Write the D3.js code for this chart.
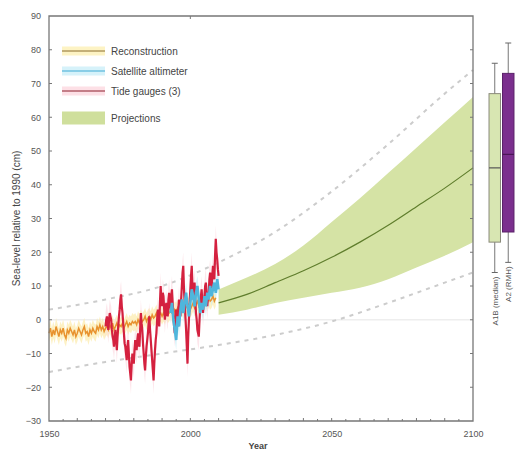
<!DOCTYPE html>
<html>
<head>
  <meta charset="utf-8">
  <title>Sea level</title>
  <script src="https://d3js.org/d3.v7.min.js"></script>
  <style>
    body { margin: 0; background: #fff; }
    svg { display: block; font-family: "Liberation Sans", Arial, sans-serif; }
  </style>
</head>
<body>
  <svg width="515" height="455"></svg>

  <script>
    // reconstruction, from 1950 every half year
    const reconStart = 1950;
    const reconStep = 0.5;
    const reconValues = [
      -4, -2.5, -5, -3, -4.5, -2, -3.5, -5, -3, -4, -2.5, -4.5, -5.5, -3, -4, -2.5, -3.5, -4.5, -3, -5,
      -4, -2.5, -3.5, -4.5, -3, -2, -4, -3.5, -5, -3, -4, -2.5, -3.5, -4, -2, -3, -1.5, -3, -2, -3.5, -2.5,
      -2, -3, -1.5, -2.5, -1, -3, -2, -1, -2.5, -1.5, -2, -1, -2.5, -1.5, -0.5, -2, -1, -1.5, -0.5, -1,
      -0.5, -1.5, 0, -1, 0.5, -0.5, 0, 1, -0.5, 0.5, 1, 0, 1.5, 0.5, 1, 2, 0.5, 1.5, 2, 1,
      2, 1, 2.5, 1.5, 2, 3, 2, 1.5, 3, 2.5, 3.5, 2, 3, 4, 3, 2.5, 4, 3.5, 4.5, 3,
      4, 5, 3.5, 4.5, 5.5, 4, 5, 6, 4.5, 5.5, 6, 5, 6.5, 5.5, 6, 7, 5.5, 6.5
    ];

    // tide gauges, from 1970 every quarter year
    const tideStart = 1970;
    const tideStep = 0.25;
    const tideValues = [
      -2, 0, 1, -1, -3, 0, 2, 1, 0, -3, -5, -6, -8, -5, -3, -6, -9, -5, -2, 1,
      3, 6, 7.5, 4, 2, -1, -4, -7, -8, -10, -12, -8, -6, -10, -14, -16, -18, -13, -10, -12,
      -13, -9, -6, -8, -9, -6, -4, -7, -8, -3, 2, -1, -3, -7, -10, -13, -15, -11, -8, -6,
      -4, -1, 1, -3, -6, -9, -12, -15, -18, -13, -9, -6, -4, 0, 3, 0, -2, 5, 10, 6,
      4, 8, 7, 3, 0, 3, 5, 2, 1, 6, 8, 5, 3, 7, 9, 5, 2, -2, -4, 0,
      3, 0, -2, 3, 6, 2, 1, 6, 10, 14, 16, 9, 5, 1, -3, -8, -13, -5, 0, 5,
      9, 13, 16, 10, 6, 9, 11, 6, 2, 0, -3, -4, -5, 0, 4, 7, 9, 5, 2, 5,
      7, 10, 11, 7, 4, 7, 8, 12, 14, 11, 9, 13, 16, 13, 12, 19, 24, 20, 18, 15, 13
    ];

    // satellite altimeter, from 1993 every half year
    const satStart = 1993;
    const satStep = 0.5;
    const satValues = [
      2, 5, 0, -3, -6, 1, -2, 3, 6, 2, 5, 8, 4, 1, 5, 9, 7, 4, 8, 10,
      6, 2, 5, 3, 7, 4, 8, 6, 10, 7, 9, 11, 8, 12, 9
    ];

    // projections
    const projYears = [2010, 2020, 2030, 2040, 2050, 2060, 2070, 2080, 2090, 2100];
    const projMid   = [5, 7.5, 11, 14.5, 18.5, 23, 28, 33.5, 39, 45];
    const projHigh  = [9, 12.5, 16.5, 22, 29, 36, 43.5, 51, 58.5, 66];
    const projLow   = [1.5, 3, 5, 6.5, 8, 9.5, 12, 15.5, 19, 23];

    // dashed envelope
    const envYears = [1950, 1970, 1990, 2010, 2030, 2050, 2070, 2090, 2100];
    const envUpper = [3, 6, 10, 17, 26, 38, 52, 67, 74];
    const envLower = [-15.5, -12.5, -10, -7.5, -4.5, -0.5, 5, 11, 14];

    // 2100 ranges
    const scenarios = ["A1B (median)", "A2 (RMH)"];
    const boxMin    = [14, 17];
    const boxQ1     = [23, 26];
    const boxMedian = [45, 49];
    const boxQ3     = [67, 73];
    const boxMax    = [76, 82];

    const xTicks = [1950, 2000, 2050, 2100];
    const yTicks = [-30, -20, -10, 0, 10, 20, 30, 40, 50, 60, 70, 80, 90];

    const legendItems = ["Reconstruction", "Satellite altimeter", "Tide gauges (3)", "Projections"];

    const svg = d3.select("svg");
    const pLeft = 49, pRight = 473, pTop = 16, pBottom = 421;

    const x = d3.scaleLinear().domain([1950, 2100]).range([pLeft, pRight]);
    const y = d3.scaleLinear().domain([-30, 90]).range([pBottom, pTop]);

    const toPts = (start, step, vals) => vals.map((v, i) => [start + i * step, v]);
    const recon = toPts(reconStart, reconStep, reconValues);
    const tide = toPts(tideStart, tideStep, tideValues);
    const sat = toPts(satStart, satStep, satValues);

    const line = d3.line().x(d => x(d[0])).y(d => y(d[1]));
    const band = w => d3.area().x(d => x(d[0])).y0(d => y(d[1] - w)).y1(d => y(d[1] + w));

    const g = svg.append("g");

    // zero line
    g.append("line")
      .attr("x1", pLeft).attr("x2", pRight)
      .attr("y1", y(0)).attr("y2", y(0))
      .attr("stroke", "#eeeeee").attr("stroke-width", 1.5);

    // dashed envelope
    const env = d3.line().curve(d3.curveMonotoneX).x((d, i) => x(envYears[i])).y(d => y(d));
    [envUpper, envLower].forEach(arr => {
      g.append("path")
        .attr("d", env(arr))
        .attr("fill", "none")
        .attr("stroke", "#cccccc")
        .attr("stroke-width", 2)
        .attr("stroke-dasharray", "4,5");
    });

    // projection band
    const projArea = d3.area().curve(d3.curveMonotoneX)
      .x((d, i) => x(projYears[i]))
      .y0((d, i) => y(projLow[i]))
      .y1((d, i) => y(projHigh[i]));
    g.append("path").attr("d", projArea(projYears)).attr("fill", "#d5e3a5");
    g.append("path")
      .attr("d", d3.line().curve(d3.curveMonotoneX).x((d, i) => x(projYears[i])).y(d => y(d))(projMid))
      .attr("fill", "none").attr("stroke", "#5f7d2c").attr("stroke-width", 1.2);

    // observations, light bands then lines
    g.append("path").attr("d", band(2.5)(recon)).attr("fill", "#fdeeb5").attr("opacity", 0.8);
    g.append("path").attr("d", band(4)(tide)).attr("fill", "#fbd6de").attr("opacity", 0.6);
    g.append("path").attr("d", band(3)(sat)).attr("fill", "#c8eef8").attr("opacity", 0.7);

    g.append("path").attr("d", line(recon))
      .attr("fill", "none").attr("stroke", "#e8922e").attr("stroke-width", 1.5);
    g.append("path").attr("d", line(tide))
      .attr("fill", "none").attr("stroke", "#d4213f").attr("stroke-width", 2.2);
    g.append("path").attr("d", line(sat))
      .attr("fill", "none").attr("stroke", "#4fb6dc").attr("stroke-width", 2.6);

    // frame
    const axisColor = "#777";
    const frame = svg.append("g").attr("stroke", axisColor).attr("fill", "none");
    frame.append("path")
      .attr("d", `M${pLeft},${pTop}H${pRight}V${pBottom}H${pLeft}Z`)
      .attr("stroke-width", 1.3);

    // bottom axis
    const xAxis = d3.axisBottom(x).tickValues(xTicks).tickSize(0).tickPadding(10).tickFormat(d3.format("d"));
    const xa = svg.append("g").attr("transform", `translate(0,${pBottom})`).call(xAxis);
    xa.select(".domain").remove();
    xa.selectAll("text").attr("font-size", 9).attr("fill", "#555");
    svg.append("g").selectAll("line")
      .data(d3.range(1955, 2100, 5))
      .join("line")
      .attr("x1", d => x(d)).attr("x2", d => x(d))
      .attr("y1", pBottom).attr("y2", d => pBottom - (d % 10 === 0 ? 3 : 2))
      .attr("stroke", axisColor);

    // left axis
    const yAxis = d3.axisLeft(y).tickValues(yTicks).tickSize(0).tickPadding(8);
    const ya = svg.append("g").attr("transform", `translate(${pLeft},0)`).call(yAxis);
    ya.select(".domain").remove();
    ya.selectAll("text").attr("font-size", 9).attr("fill", "#555");
    [pLeft, pRight].forEach((ax, k) => {
      svg.append("g").selectAll("line")
        .data(yTicks.slice(1, -1))
        .join("line")
        .attr("x1", ax).attr("x2", ax + (k === 0 ? 3 : -3))
        .attr("y1", d => y(d)).attr("y2", d => y(d))
        .attr("stroke", axisColor);
    });
    svg.append("line")
      .attr("x1", x(2000)).attr("x2", x(2000))
      .attr("y1", pTop).attr("y2", pTop + 3)
      .attr("stroke", axisColor);

    // axis titles
    svg.append("text")
      .attr("x", 258).attr("y", 449)
      .attr("text-anchor", "middle")
      .attr("font-size", 9).attr("font-weight", "bold").attr("fill", "#444")
      .text("Year");
    svg.append("text")
      .attr("transform", `translate(20,${(pTop + pBottom) / 2}) rotate(-90)`)
      .attr("text-anchor", "middle")
      .attr("font-size", 10).attr("fill", "#444")
      .text("Sea-level relative to 1990 (cm)");

    // legend
    const legY = [51, 71, 91, 118];
    const legBand = ["#fdf3c4", "#d6f2fa", "#fde0e6", "#cfdf9c"];
    const legLine = ["#8a6d2c", "#3ca9d3", "#8b1d2a", null];
    const leg = svg.append("g");
    legendItems.forEach((name, i) => {
      const h = i === 3 ? 13 : 9;
      leg.append("rect")
        .attr("x", 62).attr("y", legY[i] - h / 2)
        .attr("width", 43).attr("height", h)
        .attr("fill", legBand[i]);
      if (legLine[i]) {
        leg.append("line")
          .attr("x1", 62).attr("x2", 105)
          .attr("y1", legY[i]).attr("y2", legY[i])
          .attr("stroke", legLine[i]).attr("stroke-width", 1);
      }
      leg.append("text")
        .attr("x", 111).attr("y", legY[i] + 3.5)
        .attr("font-size", 10).attr("fill", "#444")
        .text(name);
    });

    // 2100 boxes
    const bx = d3.scaleBand().domain(scenarios).range([487, 516]).padding(0.15);
    const boxFill = ["#d8e6b2", "#7b2f8e"];
    const boxStroke = ["#8a8a7a", "#5b2169"];
    const bg = svg.append("g");
    scenarios.forEach((s, i) => {
      const x0 = bx(s), w = bx.bandwidth(), cx = x0 + w / 2;
      bg.append("line")
        .attr("x1", cx).attr("x2", cx)
        .attr("y1", y(boxMax[i])).attr("y2", y(boxMin[i]))
        .attr("stroke", "#777");
      [boxMax[i], boxMin[i]].forEach(v => {
        bg.append("line")
          .attr("x1", cx - 3).attr("x2", cx + 3)
          .attr("y1", y(v)).attr("y2", y(v))
          .attr("stroke", "#666");
      });
      bg.append("rect")
        .attr("x", x0).attr("y", y(boxQ3[i]))
        .attr("width", w).attr("height", y(boxQ1[i]) - y(boxQ3[i]))
        .attr("fill", boxFill[i]).attr("stroke", boxStroke[i]);
      bg.append("line")
        .attr("x1", x0).attr("x2", x0 + w)
        .attr("y1", y(boxMedian[i])).attr("y2", y(boxMedian[i]))
        .attr("stroke", i === 0 ? "#555" : "#4a1656").attr("stroke-width", 1.2);
      bg.append("text")
        .attr("transform", `translate(${cx + 3},${y(boxMin[i]) + 4}) rotate(-90)`)
        .attr("text-anchor", "end")
        .attr("font-size", 8).attr("fill", "#555")
        .text(s);
    });
  </script>
</body>
</html>
